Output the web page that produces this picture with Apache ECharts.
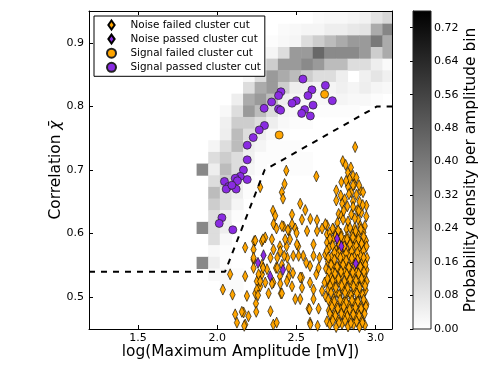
<!DOCTYPE html>
<html>
<head>
<meta charset="utf-8">
<title>Cluster cut</title>
<script src="https://cdn.jsdelivr.net/npm/echarts@6/dist/echarts.min.js"></script>
<style>
html,
body {
  margin: 0;
  padding: 0;
  background-color: #fff;
}
#chart {
  width: 498px;
  height: 374px;
}
</style>
</head>
<body>
<div id="chart"></div>
<script>
// 坐标范围
var xMin = 1.19, xMax = 3.105;
var yMin = 0.45, yMax = 0.95;
var densityMax = 0.76;

var xTicks = [1.5, 2.0, 2.5, 3.0];
var yTicks = [0.5, 0.6, 0.7, 0.8, 0.9];
var colorTicks = [0, 0.08, 0.16, 0.24, 0.32, 0.40, 0.48, 0.56, 0.64, 0.72];

var seriesNames = ['Noise failed cluster cut', 'Noise passed cluster cut', 'Signal failed cluster cut', 'Signal passed cluster cut'];

// 直方图分箱
var xBinStart = 1.87, xBinWidth = 0.0734;
var yBinStart = 0.4535, yBinHeight = 0.01833;
var densityTopRow = 26;
// 每行从上到下 (k = 26 ... 3), 每列 c0 ... c16
var densityRows = [
  [0, 0, 0, 0, 0, 0, 0, 0, 0, 0, 0.015, 0.02, 0.02, 0.03, 0.04, 0.08, 0.12],
  [0, 0, 0, 0, 0, 0, 0, 0.015, 0.02, 0.03, 0.03, 0.05, 0.05, 0.07, 0.08, 0.25, 0.36],
  [0, 0, 0, 0, 0, 0, 0.01, 0.02, 0.03, 0.10, 0.15, 0.20, 0.25, 0.30, 0.30, 0.40, 0.25],
  [0, 0, 0, 0, 0, 0.01, 0.03, 0.10, 0.30, 0.30, 0.45, 0.35, 0.35, 0.35, 0.30, 0.15, 0.25],
  [0, 0, 0, 0, 0, 0.03, 0.15, 0.30, 0.30, 0.35, 0.30, 0.20, 0.20, 0.10, 0.10, 0.05, 0.015],
  [0, 0, 0, 0, 0.02, 0.10, 0.30, 0.25, 0.20, 0.15, 0.10, 0.10, 0.05, 0, 0.045, 0.077, 0.045],
  [0, 0, 0, 0, 0.10, 0.25, 0.30, 0.15, 0.05, 0.045, 0.03, 0.03, 0.045, 0.03, 0.05, 0.03, 0.02],
  [0, 0, 0, 0.05, 0.25, 0.30, 0.20, 0.05, 0.03, 0.02, 0.02, 0.02, 0.03, 0.02, 0.02, 0.01, 0],
  [0, 0, 0.02, 0.10, 0.30, 0.20, 0.10, 0.03, 0.02, 0.01, 0.01, 0.01, 0.01, 0.01, 0, 0, 0],
  [0, 0, 0.045, 0.15, 0.15, 0.10, 0.05, 0.02, 0.01, 0.01, 0, 0, 0, 0, 0, 0, 0],
  [0, 0, 0.05, 0.20, 0.10, 0.05, 0.02, 0.01, 0, 0, 0, 0, 0, 0, 0, 0, 0],
  [0, 0.03, 0.10, 0.20, 0.05, 0.03, 0.01, 0.01, 0.01, 0, 0, 0, 0, 0, 0, 0, 0],
  [0, 0.10, 0.15, 0.10, 0.045, 0.01, 0.01, 0.01, 0.01, 0.01, 0, 0, 0, 0, 0, 0, 0],
  [0.355, 0.05, 0.20, 0.10, 0.03, 0.01, 0, 0, 0.01, 0.01, 0, 0, 0, 0, 0, 0, 0],
  [0, 0.10, 0.15, 0.05, 0.01, 0, 0, 0, 0, 0, 0, 0, 0, 0, 0, 0, 0],
  [0, 0.20, 0.10, 0.05, 0.01, 0, 0, 0, 0, 0, 0, 0, 0, 0, 0, 0, 0],
  [0, 0.15, 0.10, 0.03, 0, 0, 0, 0, 0, 0, 0, 0, 0, 0, 0, 0, 0],
  [0, 0.10, 0.05, 0.01, 0, 0, 0, 0, 0, 0, 0, 0, 0, 0, 0, 0, 0],
  [0.355, 0.10, 0.05, 0, 0, 0, 0, 0, 0, 0, 0, 0, 0, 0, 0, 0, 0],
  [0, 0.10, 0.02, 0, 0, 0, 0, 0, 0, 0, 0, 0, 0, 0, 0, 0, 0],
  [0, 0.02, 0.01, 0, 0, 0, 0, 0, 0, 0, 0, 0, 0, 0, 0, 0, 0],
  [0.355, 0.05, 0.01, 0, 0, 0, 0, 0, 0, 0, 0, 0, 0, 0, 0, 0, 0],
  [0, 0.02, 0.02, 0.01, 0, 0, 0, 0, 0, 0, 0, 0, 0, 0, 0, 0, 0],
  [0, 0, 0.015, 0.015, 0, 0, 0, 0, 0, 0, 0, 0, 0, 0, 0, 0, 0]
];

// 切割线
var cutLine = [[1.19, 0.54], [2.05, 0.54], [2.30, 0.70], [3.01, 0.80], [3.105, 0.80]];

var signalPassed = [
  [2.542, 0.843], [2.684, 0.833], [2.403, 0.823], [2.388, 0.817], [2.599, 0.826], [2.574, 0.817],
  [2.500, 0.809], [2.473, 0.805], [2.344, 0.807], [2.728, 0.809], [2.606, 0.802], [2.553, 0.795],
  [2.297, 0.797], [2.388, 0.796], [2.401, 0.794], [2.534, 0.789], [2.589, 0.785], [2.299, 0.770],
  [2.266, 0.763], [2.228, 0.751], [2.190, 0.739], [2.190, 0.716], [2.166, 0.700], [2.190, 0.685],
  [2.146, 0.690], [2.114, 0.687], [2.128, 0.683], [2.046, 0.682], [2.072, 0.674], [2.057, 0.670],
  [2.120, 0.670], [2.093, 0.676], [2.030, 0.625], [2.013, 0.616], [2.099, 0.606]
];

var signalFailed = [[2.679, 0.819], [2.392, 0.755]];

var noisePassed = [
  [2.293, 0.566], [2.258, 0.554], [2.335, 0.533], [2.416, 0.543],
  [2.758, 0.592], [2.785, 0.580], [2.876, 0.553]
];

var noiseFailed = [
  // 上方稀疏
  [2.437, 0.699], [2.272, 0.673], [2.627, 0.690], [2.426, 0.678], [2.409, 0.665], [2.416, 0.655],
  [2.353, 0.636], [2.367, 0.628], [2.525, 0.647], [2.557, 0.637], [2.473, 0.630], [2.589, 0.623],
  [2.536, 0.622], [2.473, 0.615], [2.420, 0.611], [2.452, 0.605], [2.494, 0.608], [2.356, 0.615],
  [2.631, 0.621], [2.304, 0.594], [2.409, 0.612],
  // 左下
  [2.346, 0.591], [2.283, 0.588], [2.234, 0.588], [2.177, 0.578], [2.230, 0.559], [2.283, 0.551],
  [2.230, 0.546], [2.315, 0.544], [2.283, 0.536], [2.251, 0.525], [2.304, 0.523], [2.177, 0.533],
  [2.082, 0.536], [2.036, 0.512], [2.097, 0.504], [2.188, 0.502], [2.272, 0.517], [2.241, 0.506],
  [2.372, 0.546], [2.397, 0.533], [2.355, 0.523], [2.403, 0.506], [2.325, 0.506], [2.397, 0.580],
  [2.439, 0.580], [2.460, 0.591], [2.502, 0.601], [2.512, 0.580], [2.481, 0.565], [2.544, 0.565],
  [2.587, 0.549], [2.479, 0.538], [2.536, 0.531], [2.587, 0.523], [2.473, 0.517], [2.525, 0.497],
  [2.609, 0.512], [2.578, 0.482], [2.641, 0.482], [2.587, 0.460], [2.635, 0.455], [2.114, 0.473],
  [2.167, 0.476], [2.125, 0.460], [2.198, 0.470], [2.177, 0.457], [2.355, 0.457], [2.376, 0.460],
  [2.230, 0.575], [2.245, 0.490], [2.247, 0.477], [2.156, 0.477], [2.171, 0.455], [2.241, 0.589],
  [2.290, 0.591], [2.375, 0.608], [2.447, 0.606], [2.230, 0.562], [2.262, 0.536], [2.272, 0.525],
  [2.290, 0.546], [2.337, 0.562], [2.380, 0.562], [2.399, 0.572], [2.356, 0.575], [2.409, 0.551],
  [2.380, 0.546], [2.443, 0.562], [2.452, 0.546], [2.346, 0.521], [2.399, 0.521], [2.452, 0.532],
  [2.409, 0.506], [2.251, 0.512], [2.258, 0.503], [2.337, 0.478], [2.430, 0.591], [2.424, 0.565],
  [2.441, 0.525], [2.504, 0.583], [2.515, 0.565], [2.525, 0.531], [2.536, 0.515], [2.494, 0.497],
  [2.563, 0.554], [2.568, 0.604], [2.609, 0.583], [2.631, 0.604], [2.609, 0.565], [2.627, 0.536],
  [2.609, 0.497], [2.663, 0.510], [2.584, 0.481], [2.589, 0.457], [2.647, 0.562], [2.641, 0.546],
  [2.694, 0.599], [2.694, 0.525], [2.694, 0.462],
  // 右侧上部
  [2.872, 0.736], [2.794, 0.714], [2.827, 0.696], [2.859, 0.691], [2.837, 0.686], [2.785, 0.681],
  [2.867, 0.677], [2.827, 0.674], [2.905, 0.668], [2.753, 0.668], [2.848, 0.665], [2.880, 0.661],
  [2.833, 0.662], [2.806, 0.654], [2.859, 0.651], [2.753, 0.652], [2.790, 0.647], [2.943, 0.644],
  [2.823, 0.643], [2.859, 0.642], [2.886, 0.637], [2.911, 0.633], [2.768, 0.631], [2.943, 0.627],
  [2.848, 0.630], [2.785, 0.628], [2.796, 0.622], [2.827, 0.619], [2.891, 0.622], [2.933, 0.612],
  [2.870, 0.609], [2.818, 0.607], [2.766, 0.604], [2.694, 0.613], [2.736, 0.607], [2.684, 0.615],
  [2.663, 0.608], [2.922, 0.665], [2.897, 0.676], [2.859, 0.676], [2.895, 0.636],
  [2.815, 0.683], [2.880, 0.688], [2.845, 0.704], [2.812, 0.708], [2.900, 0.650], [2.781, 0.660],
  [2.870, 0.624], [2.905, 0.612], [2.800, 0.636], [2.760, 0.617], [2.920, 0.645],
  // 右侧密集
  [2.712, 0.601], [2.748, 0.596], [2.781, 0.600], [2.822, 0.595], [2.856, 0.599], [2.893, 0.597], [2.924, 0.602],
  [2.694, 0.586], [2.731, 0.590], [2.766, 0.585], [2.803, 0.589], [2.839, 0.586], [2.874, 0.590], [2.911, 0.585], [2.940, 0.589],
  [2.708, 0.578], [2.752, 0.574], [2.787, 0.579], [2.818, 0.575], [2.861, 0.578], [2.896, 0.574], [2.928, 0.577],
  [2.683, 0.567], [2.722, 0.563], [2.760, 0.568], [2.797, 0.564], [2.833, 0.567], [2.868, 0.563], [2.905, 0.566], [2.947, 0.562],
  [2.701, 0.556], [2.739, 0.552], [2.779, 0.557], [2.812, 0.553], [2.851, 0.556], [2.889, 0.552], [2.921, 0.556],
  [2.688, 0.545], [2.727, 0.541], [2.764, 0.546], [2.801, 0.542], [2.838, 0.545], [2.877, 0.541], [2.912, 0.546], [2.944, 0.543],
  [2.713, 0.534], [2.747, 0.530], [2.786, 0.535], [2.822, 0.531], [2.858, 0.534], [2.896, 0.530], [2.930, 0.535],
  [2.679, 0.523], [2.731, 0.519], [2.769, 0.524], [2.806, 0.520], [2.843, 0.523], [2.881, 0.519], [2.917, 0.524],
  [2.702, 0.512], [2.752, 0.508], [2.791, 0.513], [2.827, 0.509], [2.864, 0.512], [2.902, 0.508], [2.938, 0.511],
  [2.686, 0.501], [2.737, 0.497], [2.774, 0.502], [2.812, 0.498], [2.849, 0.501], [2.886, 0.497], [2.921, 0.500],
  [2.719, 0.490], [2.759, 0.486], [2.796, 0.491], [2.833, 0.487], [2.871, 0.490], [2.908, 0.486], [2.943, 0.489],
  [2.706, 0.479], [2.744, 0.475], [2.781, 0.480], [2.818, 0.476], [2.856, 0.479], [2.893, 0.475], [2.926, 0.478],
  [2.727, 0.468], [2.766, 0.464], [2.803, 0.469], [2.841, 0.465], [2.878, 0.468], [2.915, 0.464],
  [2.712, 0.457], [2.752, 0.453], [2.789, 0.458], [2.827, 0.454], [2.862, 0.457], [2.899, 0.453], [2.934, 0.456],
  // 密集区中间
  [2.730, 0.608], [2.765, 0.605], [2.840, 0.609], [2.875, 0.604], [2.908, 0.607],
  [2.713, 0.592], [2.784, 0.595], [2.821, 0.591], [2.858, 0.594], [2.893, 0.591], [2.926, 0.595],
  [2.730, 0.581], [2.770, 0.584], [2.803, 0.580], [2.840, 0.583], [2.879, 0.581], [2.913, 0.584], [2.944, 0.580],
  [2.693, 0.573], [2.741, 0.570], [2.778, 0.573], [2.815, 0.569], [2.850, 0.572], [2.886, 0.570], [2.925, 0.573],
  [2.702, 0.562], [2.741, 0.559], [2.779, 0.562], [2.815, 0.558], [2.851, 0.561], [2.887, 0.559], [2.926, 0.562],
  [2.720, 0.551], [2.758, 0.548], [2.796, 0.551], [2.832, 0.547], [2.870, 0.550], [2.905, 0.548], [2.937, 0.551],
  [2.706, 0.540], [2.745, 0.537], [2.783, 0.540], [2.819, 0.536], [2.857, 0.539], [2.894, 0.537], [2.928, 0.540],
  [2.697, 0.529], [2.729, 0.526], [2.767, 0.529], [2.804, 0.525], [2.840, 0.528], [2.877, 0.526], [2.913, 0.529], [2.945, 0.525],
  [2.714, 0.518], [2.750, 0.515], [2.787, 0.518], [2.824, 0.514], [2.862, 0.517], [2.900, 0.515], [2.935, 0.518],
  [2.720, 0.507], [2.771, 0.504], [2.808, 0.507], [2.846, 0.503], [2.883, 0.506], [2.920, 0.504],
  [2.702, 0.496], [2.740, 0.493], [2.777, 0.496], [2.815, 0.492], [2.852, 0.495], [2.889, 0.493], [2.926, 0.496],
  [2.725, 0.485], [2.762, 0.482], [2.800, 0.485], [2.837, 0.481], [2.874, 0.484], [2.910, 0.482], [2.940, 0.485],
  [2.712, 0.474], [2.747, 0.471], [2.785, 0.474], [2.822, 0.470], [2.860, 0.473], [2.897, 0.471], [2.932, 0.474],
  [2.731, 0.463], [2.770, 0.460], [2.808, 0.463], [2.845, 0.459], [2.881, 0.462], [2.918, 0.460]
];

var orange = '#FFA500';
var purple = '#8A2BE2';
var diamondPath = 'path://M0,-5L3.5,0L0,5L-3.5,0Z';
var font = 'DejaVu Sans';

// 热力图单元格
var cells = [];
for (var i = 0; i < densityRows.length; i++) {
  var k = densityTopRow - i;
  for (var c = 0; c < densityRows[i].length; c++) {
    var v = densityRows[i][c];
    if (v > 0) {
      cells.push([xBinStart + c * xBinWidth, yBinStart + k * yBinHeight, v]);
    }
  }
}

function renderCell(params, api) {
  var x = api.value(0);
  var y = api.value(1);
  var p0 = api.coord([x, y + yBinHeight]);
  var p1 = api.coord([x + xBinWidth, y]);
  var rect = echarts.graphic.clipRectByRect({
    x: p0[0],
    y: p0[1],
    width: p1[0] - p0[0] + 0.5,
    height: p1[1] - p0[1] + 0.5
  }, {
    x: params.coordSys.x,
    y: params.coordSys.y,
    width: params.coordSys.width,
    height: params.coordSys.height
  });
  return rect && {
    type: 'rect',
    shape: rect,
    style: { fill: api.visual('color') }
  };
}

function renderColorbar(params, api) {
  var p0 = api.coord([0, densityMax]);
  var p1 = api.coord([1, 0]);
  return {
    type: 'rect',
    shape: { x: p0[0], y: p0[1], width: p1[0] - p0[0], height: p1[1] - p0[1] },
    style: {
      fill: new echarts.graphic.LinearGradient(0, 0, 0, 1, [
        { offset: 0, color: '#000' },
        { offset: 1, color: '#fff' }
      ]),
      stroke: '#222',
      lineWidth: 1
    }
  };
}

function frameAxis(gridIndex, position, min, max, ticks) {
  return {
    gridIndex: gridIndex,
    type: 'value',
    position: position,
    min: min,
    max: max,
    axisLine: { show: true, lineStyle: { color: '#000', width: 1 } },
    axisTick: { show: true, inside: true, length: 4, customValues: ticks, lineStyle: { color: '#000' } },
    axisLabel: { show: false },
    splitLine: { show: false }
  };
}

var bottomAxis = frameAxis(0, 'bottom', xMin, xMax, xTicks);
bottomAxis.axisLabel = {
  show: true, customValues: xTicks, margin: 4, fontSize: 11, color: '#000', fontFamily: font,
  formatter: function (v) { return v.toFixed(1); }
};
bottomAxis.name = 'log(Maximum Amplitude [mV])';
bottomAxis.nameLocation = 'middle';
bottomAxis.nameGap = 15;
bottomAxis.nameMoveOverlap = false;
bottomAxis.nameTextStyle = { fontSize: 15.4, color: '#000', fontFamily: font };

var leftAxis = frameAxis(0, 'left', yMin, yMax, yTicks);
leftAxis.axisLabel = {
  show: true, customValues: yTicks, margin: 5, fontSize: 11, color: '#000', fontFamily: font,
  formatter: function (v) { return v.toFixed(1); }
};
leftAxis.name = 'Correlation {chi|χ̄}';
leftAxis.nameLocation = 'middle';
leftAxis.nameRotate = 90;
leftAxis.nameGap = 26;
leftAxis.nameMoveOverlap = false;
leftAxis.nameTextStyle = {
  fontSize: 15.4, color: '#000', fontFamily: font,
  rich: { chi: { fontSize: 15.4, fontStyle: 'italic', color: '#000', fontFamily: font } }
};

var barAxis = frameAxis(1, 'right', 0, densityMax, colorTicks);
barAxis.axisLine.lineStyle.color = '#222';
barAxis.axisTick.length = 3;
barAxis.axisLabel = {
  show: true, customValues: colorTicks, margin: 3, fontSize: 11, color: '#000', fontFamily: font,
  formatter: function (v) { return v.toFixed(2); }
};
barAxis.name = 'Probability density per amplitude bin';
barAxis.nameLocation = 'middle';
barAxis.nameRotate = 90;
barAxis.nameGap = 32;
barAxis.nameMoveOverlap = false;
barAxis.nameTextStyle = { fontSize: 15.4, color: '#000', fontFamily: font };

var myChart = echarts.init(document.getElementById('chart'));

myChart.setOption({
  animation: false,
  backgroundColor: '#fff',
  textStyle: { fontFamily: font },
  grid: [
    { left: 89, top: 11, width: 303, height: 318, outerBoundsMode: 'none' },
    { left: 413, top: 11, width: 18, height: 318, outerBoundsMode: 'none' }
  ],
  xAxis: [
    bottomAxis,
    frameAxis(0, 'top', xMin, xMax, xTicks),
    { gridIndex: 1, type: 'value', min: 0, max: 1, show: false }
  ],
  yAxis: [
    leftAxis,
    frameAxis(0, 'right', yMin, yMax, yTicks),
    barAxis
  ],
  visualMap: {
    show: false,
    type: 'continuous',
    seriesIndex: 0,
    dimension: 2,
    min: 0,
    max: densityMax,
    inRange: { color: ['#ffffff', '#000000'] }
  },
  legend: {
    data: seriesNames,
    orient: 'vertical',
    left: 94,
    top: 16,
    padding: [3.5, 4, 3.5, 12],
    itemWidth: 28,
    itemHeight: 9,
    itemGap: 3.1,
    backgroundColor: '#fff',
    borderColor: '#000',
    borderWidth: 1,
    borderRadius: 0,
    textStyle: { fontSize: 10.4, color: '#000', fontFamily: font }
  },
  series: [
    {
      type: 'custom',
      name: 'density',
      xAxisIndex: 0,
      yAxisIndex: 0,
      data: cells,
      encode: { x: 0, y: 1 },
      renderItem: renderCell,
      silent: true
    },
    {
      type: 'line',
      name: 'cut',
      xAxisIndex: 0,
      yAxisIndex: 0,
      data: cutLine,
      showSymbol: false,
      silent: true,
      lineStyle: { color: '#000', width: 2, type: [6, 6] }
    },
    {
      type: 'scatter',
      name: seriesNames[0],
      data: noiseFailed,
      symbol: diamondPath,
      symbolKeepAspect: true,
      symbolSize: [7.5, 11],
      itemStyle: { color: orange, borderColor: '#000', borderWidth: 0.6, opacity: 1 },
      silent: true
    },
    {
      type: 'scatter',
      name: seriesNames[1],
      data: noisePassed,
      symbol: diamondPath,
      symbolKeepAspect: true,
      symbolSize: [7.5, 11],
      itemStyle: { color: purple, borderColor: '#000', borderWidth: 0.6, opacity: 1 },
      silent: true
    },
    {
      type: 'scatter',
      name: seriesNames[2],
      data: signalFailed,
      symbol: 'circle',
      symbolSize: 8,
      itemStyle: { color: orange, borderColor: '#222', borderWidth: 0.7, opacity: 1 },
      silent: true
    },
    {
      type: 'scatter',
      name: seriesNames[3],
      data: signalPassed,
      symbol: 'circle',
      symbolSize: 8,
      itemStyle: { color: purple, borderColor: '#222', borderWidth: 0.7, opacity: 1 },
      silent: true
    },
    {
      type: 'custom',
      name: 'colorbar',
      xAxisIndex: 2,
      yAxisIndex: 2,
      data: [[0, 0]],
      renderItem: renderColorbar,
      silent: true
    }
  ]
});
</script>
</body>
</html>
